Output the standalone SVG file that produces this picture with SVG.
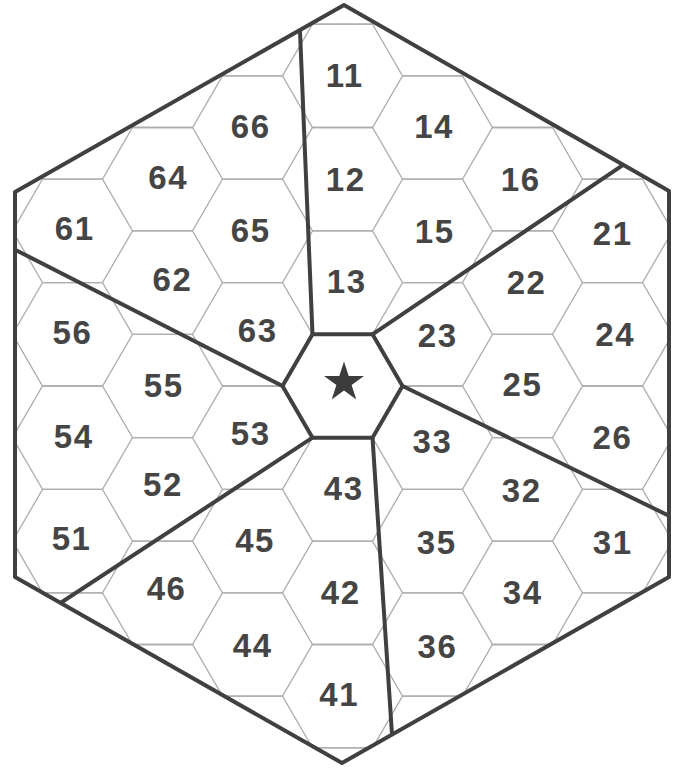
<svg xmlns="http://www.w3.org/2000/svg" xmlns:xlink="http://www.w3.org/1999/xlink" width="675" height="769" viewBox="0 0 675 769">
<style>
.grid{fill:none;stroke:#adadad;stroke-width:1.3}
.thick{fill:none;stroke:#404040;stroke-width:4;stroke-linejoin:round;stroke-linecap:round}
.star{fill:#3c3c3c}
.lbl{font-family:"Liberation Sans",Arial,Helvetica,sans-serif;font-size:33px;font-weight:bold;letter-spacing:1.5px;fill:#454545;text-anchor:middle}
</style>
<defs>
<clipPath id="clipOuter"><polygon points="344,5 669,191 669,577 342,763 15,577 15,192"/></clipPath>
<path id="zz" d="M-480,51.7 H-420 L-390,0 H-330 L-300,51.7 H-240 L-210,0 H-150 L-120,51.7 H-60 L-30,0 H30 L60,51.7 H120 L150,0 H210 L240,51.7 H300 L330,0 H390 L420,51.7 H480"/>
</defs>
<rect width="675" height="769" fill="#ffffff"/>
<g id="grid" class="grid" clip-path="url(#clipOuter)">
<use href="#zz" transform="translate(342.5,24.1)"/>
<use href="#zz" transform="translate(342.5,127.5)"/>
<use href="#zz" transform="translate(342.5,230.9)"/>
<use href="#zz" transform="translate(342.5,334.3)"/>
<use href="#zz" transform="translate(342.5,437.7)"/>
<use href="#zz" transform="translate(342.5,541.1)"/>
<use href="#zz" transform="translate(342.5,644.5)"/>
<use href="#zz" transform="translate(342.5,747.9)"/>
<use href="#zz" transform="translate(342.5,24.1) scale(1,-1)"/>
<use href="#zz" transform="translate(342.5,127.5) scale(1,-1)"/>
<use href="#zz" transform="translate(342.5,230.9) scale(1,-1)"/>
<use href="#zz" transform="translate(342.5,334.3) scale(1,-1)"/>
<use href="#zz" transform="translate(342.5,437.7) scale(1,-1)"/>
<use href="#zz" transform="translate(342.5,541.1) scale(1,-1)"/>
<use href="#zz" transform="translate(342.5,644.5) scale(1,-1)"/>
<use href="#zz" transform="translate(342.5,747.9) scale(1,-1)"/>
</g>
<g id="connectors" class="thick" clip-path="url(#clipOuter)">
<line x1="312.5" y1="334.3" x2="298.5" y2="-5"/>
<line x1="372.5" y1="334.3" x2="681.9" y2="125.2"/>
<line x1="402.5" y1="386" x2="690" y2="526"/>
<line x1="372.5" y1="437.7" x2="395" y2="780"/>
<line x1="312.5" y1="437.7" x2="20" y2="629.5"/>
<line x1="282.5" y1="386" x2="0" y2="242"/>
</g>
<g id="outer" class="thick">
<polygon points="344,5 669,191 669,577 342,763 15,577 15,192"/>
</g>
<g id="center">
<polygon class="thick" points="312.5,334.3 372.5,334.3 402.5,386 372.5,437.7 312.5,437.7 282.5,386"/>
<polygon class="star" points="344,361.5 348.7,376 364,376.1 351.6,385 356.3,399.5 344,390.6 331.7,399.5 336.4,385 324,376.1 339.3,376"/>
</g>
<g id="cell-11"><text class="lbl" x="344.7" y="86.8">11</text></g>
<g id="cell-12"><text class="lbl" x="345.7" y="190.8">12</text></g>
<g id="cell-13"><text class="lbl" x="346.7" y="292.8">13</text></g>
<g id="cell-14"><text class="lbl" x="434" y="138.3">14</text></g>
<g id="cell-15"><text class="lbl" x="434.7" y="242.8">15</text></g>
<g id="cell-16"><text class="lbl" x="520.7" y="190.8">16</text></g>
<g id="cell-21"><text class="lbl" x="612.7" y="244.8">21</text></g>
<g id="cell-22"><text class="lbl" x="526.5" y="294.3">22</text></g>
<g id="cell-23"><text class="lbl" x="437.7" y="347.3">23</text></g>
<g id="cell-24"><text class="lbl" x="615.2" y="345.8">24</text></g>
<g id="cell-25"><text class="lbl" x="522.4" y="395.8">25</text></g>
<g id="cell-26"><text class="lbl" x="612.4" y="449.3">26</text></g>
<g id="cell-31"><text class="lbl" x="612.7" y="553.8">31</text></g>
<g id="cell-32"><text class="lbl" x="521.7" y="502.3">32</text></g>
<g id="cell-33"><text class="lbl" x="432.4" y="452.6">33</text></g>
<g id="cell-34"><text class="lbl" x="522.7" y="603.8">34</text></g>
<g id="cell-35"><text class="lbl" x="436.7" y="553.8">35</text></g>
<g id="cell-36"><text class="lbl" x="437.4" y="657.6">36</text></g>
<g id="cell-41"><text class="lbl" x="339.2" y="706.3">41</text></g>
<g id="cell-42"><text class="lbl" x="340.7" y="603.8">42</text></g>
<g id="cell-43"><text class="lbl" x="343.7" y="499.8">43</text></g>
<g id="cell-44"><text class="lbl" x="252.7" y="656.8">44</text></g>
<g id="cell-45"><text class="lbl" x="255" y="551.8">45</text></g>
<g id="cell-46"><text class="lbl" x="166.5" y="600.1">46</text></g>
<g id="cell-51"><text class="lbl" x="71.5" y="550.1">51</text></g>
<g id="cell-52"><text class="lbl" x="162.9" y="496.1">52</text></g>
<g id="cell-53"><text class="lbl" x="250.7" y="444.8">53</text></g>
<g id="cell-54"><text class="lbl" x="73.7" y="447.8">54</text></g>
<g id="cell-55"><text class="lbl" x="163.7" y="396.8">55</text></g>
<g id="cell-56"><text class="lbl" x="72.4" y="343.8">56</text></g>
<g id="cell-61"><text class="lbl" x="74.7" y="240.1">61</text></g>
<g id="cell-62"><text class="lbl" x="172.4" y="290.8">62</text></g>
<g id="cell-63"><text class="lbl" x="257.7" y="341.8">63</text></g>
<g id="cell-64"><text class="lbl" x="168.2" y="188.5">64</text></g>
<g id="cell-65"><text class="lbl" x="250.7" y="241.8">65</text></g>
<g id="cell-66"><text class="lbl" x="250.7" y="137.8">66</text></g>
</svg>
